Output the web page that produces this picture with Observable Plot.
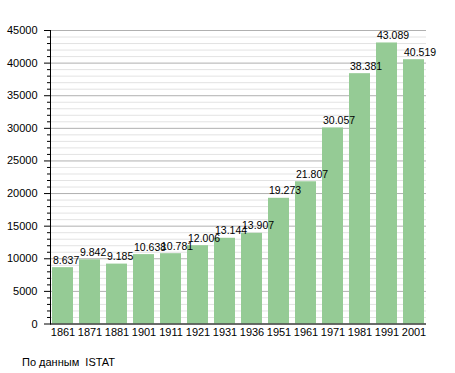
<!DOCTYPE html>
<html>
<head>
<meta charset="utf-8">
<script src="https://cdn.jsdelivr.net/npm/d3@7"></script>
<script src="https://cdn.jsdelivr.net/npm/@observablehq/plot@0.6"></script>
<style>
  body { margin: 0; background: #fff; font-family: "Liberation Sans", Arial, sans-serif; }
  #wrap { position: relative; width: 455px; height: 373px; }
  #caption { position: absolute; left: 22px; top: 355px; font-size: 11px; line-height: 14px; color: #000; white-space: pre; }
</style>
</head>
<body>
<div id="wrap"><div id="chart"></div><div id="caption">По данным  ISTAT</div></div>
<script>
const years = ["1861","1871","1881","1901","1911","1921","1931","1936","1951","1961","1971","1981","1991","2001"];
const population = [8637, 9842, 9185, 10638, 10781, 12006, 13144, 13907, 19273, 21807, 30057, 38381, 43089, 40519];
const labels = ["8.637","9.842","9.185","10.638","10.781","12.006","13.144","13.907","19.273","21.807","30.057","38.381","43.089","40.519"];
const majorTicks = [0, 5000, 10000, 15000, 20000, 25000, 30000, 35000, 40000, 45000];
const minorTicks = d3.range(0, 45001, 1000).filter(v => v % 5000 !== 0);

const data = years.map((y, i) => ({year: y, value: population[i], label: labels[i]}));

const chart = Plot.plot({
  width: 455,
  height: 345,
  marginTop: 30,
  marginBottom: 21.5,
  marginLeft: 50,
  marginRight: 29,
  style: {fontFamily: "Liberation Sans, Arial, sans-serif", fontSize: "11px", background: "white", color: "#000"},
  x: {domain: years, paddingInner: 0.23, paddingOuter: 0.03, label: null},
  y: {domain: [0, 45000], label: null},
  marks: [
    Plot.ruleY(minorTicks, {stroke: "#e3e3e3", strokeWidth: 1}),
    Plot.ruleY(majorTicks, {stroke: "#b0b0b0", strokeWidth: 1}),
    Plot.barY(data, {x: "year", y: "value", fill: "#95cb95"}),
    Plot.text(data, {x: "year", y: "value", text: "label", textAnchor: "start", dx: -10, dy: -4, lineAnchor: "bottom", fontSize: 10.5, fill: "#000"}),
    Plot.axisY({ticks: minorTicks, tickSize: 3, text: null, stroke: "#000"}),
    Plot.axisY({ticks: majorTicks, tickSize: 6, tickPadding: 7, tickFormat: d => String(d), stroke: "#000", fontSize: 11}),
    Plot.axisX({tickSize: 0, tickPadding: 4, fontSize: 11}),
    Plot.ruleY([0], {stroke: "#000"}),
    Plot.frame({anchor: "left", stroke: "#000"})
  ]
});
document.getElementById("chart").appendChild(chart);
</script>
</body>
</html>
